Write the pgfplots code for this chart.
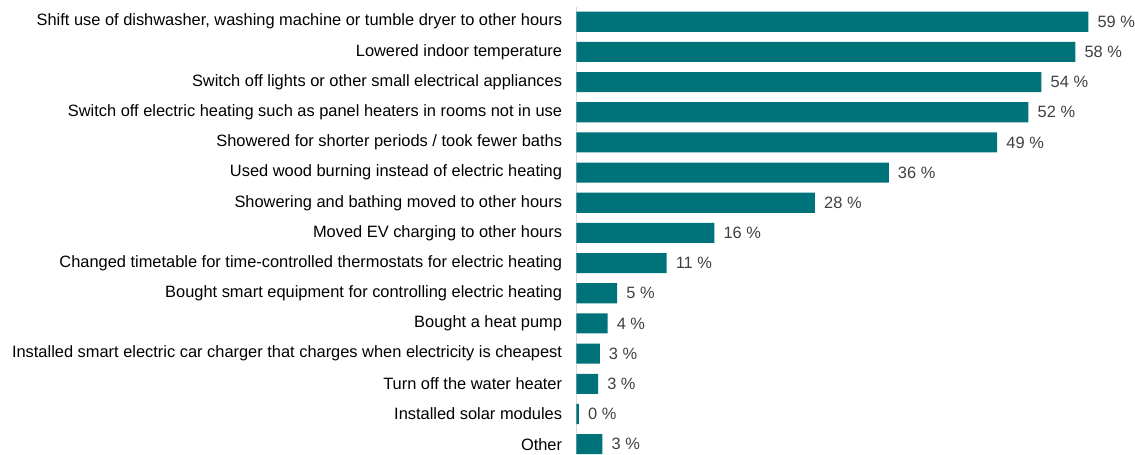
\documentclass[border=0pt]{standalone}
\usepackage{pgfplots}
\pgfplotsset{compat=1.18}
\usepackage{fontspec}
\setmainfont{Liberation Sans}
\definecolor{barteal}{RGB}{0,115,122}
\definecolor{valgray}{RGB}{64,64,64}
\definecolor{axgray}{RGB}{217,217,217}
\begin{document}
\begin{tikzpicture}
\begin{axis}[
  xbar,
  scale only axis,
  width=561.6bp,
  height=445.5bp,
  xmin=0, xmax=65,
  ymin=-0.33, ymax=14.5,
  bar width=20bp,
  axis x line=none,
  axis y line*=left,
  y axis line style={axgray, line width=1.2bp},
  ytick={0,...,14},
  yticklabels={
    Other,
    Installed solar modules,
    Turn off the water heater,
    Installed smart electric car charger that charges when electricity is cheapest,
    Bought a heat pump,
    Bought smart equipment for controlling electric heating,
    Changed timetable for time-controlled thermostats for electric heating,
    Moved EV charging to other hours,
    Showering and bathing moved to other hours,
    Used wood burning instead of electric heating,
    Showered for shorter periods / took fewer baths,
    Switch off electric heating such as panel heaters in rooms not in use,
    Switch off lights or other small electrical appliances,
    Lowered indoor temperature,
    {Shift use of dishwasher, washing machine or tumble dryer to other hours}
  },
  major tick length=0pt,
  y tick label style={font=\fontsize{16.4}{18}\selectfont, text=black, inner sep=0pt, xshift=-14bp},
  point meta=explicit symbolic,
  nodes near coords={\pgfplotspointmeta~\%},
  nodes near coords style={font=\fontsize{16.4}{18}\selectfont, text=valgray, anchor=west, inner sep=0pt, xshift=9bp},
  clip=false,
]
\addplot[fill=barteal, draw=none] coordinates {
  (3.0,0) [3]
  (0.3,1) [0]
  (2.5,2) [3]
  (2.7,3) [3]
  (3.6,4) [4]
  (4.7,5) [5]
  (10.4,6) [11]
  (15.9,7) [16]
  (27.5,8) [28]
  (36.0,9) [36]
  (48.5,10) [49]
  (52.1,11) [52]
  (53.6,12) [54]
  (57.5,13) [58]
  (59.0,14) [59]
};
\end{axis}
\path ([xshift=-12bp]current bounding box.west);
\path ([yshift=6bp]current bounding box.north);
\end{tikzpicture}
\end{document}
